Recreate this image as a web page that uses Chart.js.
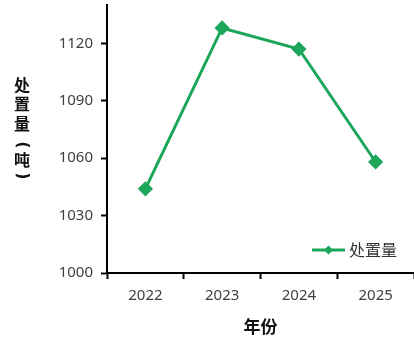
<!DOCTYPE html>
<html>
<head>
<meta charset="utf-8">
<script src="https://cdn.jsdelivr.net/npm/chart.js@4/dist/chart.umd.min.js"></script>
<style>
  html, body { margin: 0; padding: 0; background: #ffffff; }
  #wrap { width: 414px; height: 337px; position: relative; }
</style>
</head>
<body>
<div id="wrap"><canvas id="c" width="414" height="337"></canvas></div>
<script>
// Annual disposal volume (tonnes)
const years = ['2022', '2023', '2024', '2025'];
const disposal = [1044, 1128, 1117, 1058];
const yTicks = [1000, 1030, 1060, 1090, 1120];
const seriesName = '处置量';
const xTitle = '年份';
const yTitleChars = ['处', '置', '量', '(', '吨', ')'];

const GREEN = '#1ca65a';
const INK = '#000000';
const LABEL = '#404040';
const CJK = '"Noto Sans CJK SC", "Noto Sans", sans-serif';
const NUM = '"Noto Sans", "DejaVu Sans", sans-serif';

// Vertical, upright y-axis title drawn one character per row;
// brackets are turned a quarter so they cap the unit from above and below
const yTitlePlugin = {
  id: 'yTitleStack',
  afterDraw(chart) {
    const ctx = chart.ctx;
    ctx.save();
    ctx.fillStyle = '#111';
    ctx.textAlign = 'center';
    ctx.textBaseline = 'middle';
    const x = 22;
    const ys = [85, 104, 124, 145, 160, 176];
    yTitleChars.forEach((ch, i) => {
      if (ch === '(' || ch === ')') {
        ctx.save();
        ctx.font = 'bold 15px "DejaVu Sans", sans-serif';
        ctx.translate(x, ys[i]);
        ctx.rotate(Math.PI / 2);
        ctx.fillText(ch, 0, 0);
        ctx.restore();
      } else {
        ctx.font = 'bold 16px ' + CJK;
        ctx.fillText(ch, x, ys[i]);
      }
    });
    ctx.restore();
  }
};

// Legend entry placed inside the plot, lower right
const innerLegend = {
  id: 'innerLegend',
  afterDraw(chart) {
    const ctx = chart.ctx;
    const ds = chart.data.datasets[0];
    const area = chart.chartArea;
    const y = area.bottom - 23;
    const x0 = 312;
    ctx.save();
    ctx.strokeStyle = ds.borderColor;
    ctx.lineWidth = 3;
    ctx.beginPath();
    ctx.moveTo(x0, y);
    ctx.lineTo(x0 + 33, y);
    ctx.stroke();
    ctx.fillStyle = ds.borderColor;
    const cx = x0 + 16.5, r = 4.5;
    ctx.beginPath();
    ctx.moveTo(cx, y - r);
    ctx.lineTo(cx + r, y);
    ctx.lineTo(cx, y + r);
    ctx.lineTo(cx - r, y);
    ctx.closePath();
    ctx.fill();
    ctx.fillStyle = '#333';
    ctx.font = '16px ' + CJK;
    ctx.textAlign = 'left';
    ctx.textBaseline = 'middle';
    ctx.fillText(ds.label, x0 + 37, y);
    ctx.restore();
  }
};

new Chart(document.getElementById('c'), {
  type: 'line',
  data: {
    labels: years,
    datasets: [{
      label: seriesName,
      data: disposal,
      borderColor: GREEN,
      backgroundColor: GREEN,
      borderWidth: 3,
      pointStyle: 'rectRot',
      pointRadius: 5.5,
      pointHoverRadius: 5.5,
      pointBackgroundColor: GREEN,
      pointBorderColor: GREEN,
      tension: 0,
      clip: false
    }]
  },
  options: {
    responsive: false,
    animation: false,
    events: [],
    layout: { autoPadding: false, padding: { top: 5, left: 0, right: -2, bottom: 0 } },
    plugins: {
      legend: { display: false },
      tooltip: { enabled: false },
      title: { display: false }
    },
    scales: {
      x: {
        type: 'category',
        offset: true,
        grid: {
          offset: true,
          drawOnChartArea: false,
          drawTicks: true,
          tickLength: 6,
          tickWidth: 2,
          tickColor: INK
        },
        border: { display: true, color: INK, width: 2 },
        ticks: {
          color: LABEL,
          font: { family: NUM, size: 15 },
          padding: 8
        },
        title: {
          display: true,
          text: xTitle,
          color: '#111',
          font: { family: CJK, size: 17, weight: 'bold' },
          padding: { top: 2, bottom: 0 }
        },
        afterFit(scale) {
          scale.height = 64;
          scale.paddingLeft = 0;
          scale.paddingRight = 0;
        }
      },
      y: {
        type: 'linear',
        min: 1000,
        max: 1140,
        afterBuildTicks(scale) {
          scale.ticks = yTicks.map(v => ({ value: v }));
        },
        grid: {
          drawOnChartArea: false,
          drawTicks: true,
          tickLength: 6,
          tickWidth: 2,
          tickColor: INK
        },
        border: { display: true, color: INK, width: 2 },
        ticks: {
          color: LABEL,
          font: { family: NUM, size: 15 },
          padding: 8,
          callback: (v) => String(v)
        },
        afterFit(scale) {
          scale.width = 107;
          scale.paddingTop = 0;
          scale.paddingBottom = 0;
        }
      }
    }
  },
  plugins: [yTitlePlugin, innerLegend]
});
</script>
</body>
</html>
